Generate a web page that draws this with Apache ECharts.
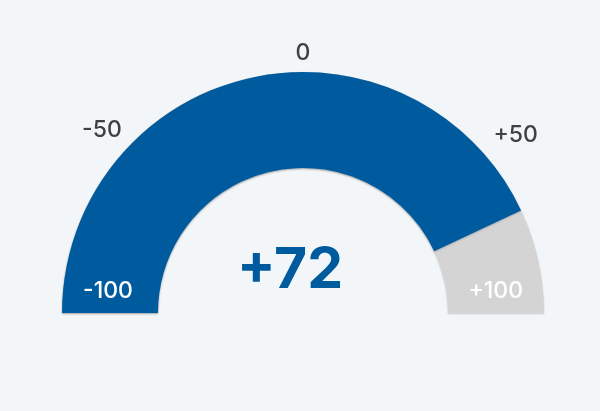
<!DOCTYPE html>
<html>
<head>
<meta charset="utf-8">
<script src="https://cdn.jsdelivr.net/npm/echarts@6/dist/echarts.min.js"></script>
<style>
html,body{margin:0;padding:0;background:#f3f6f9;}
#c{width:600px;height:411px;}
</style>
</head>
<body>
<div id="c"></div>
<script>
const scaleMin = -100;
const scaleMax = 100;
const tickValues = [-100, -50, 0, 50, 100];
const gaugeValue = 72;

const fmt = v => (v > 0 ? '+' + v : '' + v);
const chart = echarts.init(document.getElementById('c'));
const FONT = 'Inter';
const common = {
  type: 'gauge',
  center: [303, 313],
  radius: 241,
  startAngle: 180,
  endAngle: 0,
  min: scaleMin,
  max: scaleMax,
  splitNumber: tickValues.length - 1,
  pointer: { show: false },
  axisTick: { show: false },
  splitLine: { show: false, length: 0 },
  anchor: { show: false },
  title: { show: false }
};
const outerStyle = { color: '#404040', fontSize: 23, fontFamily: FONT, fontWeight: 500 };
const innerStyle = { color: '#ffffff', fontSize: 23, fontFamily: FONT, fontWeight: 500 };
chart.setOption({
  backgroundColor: '#f3f6f9',
  animation: false,
  series: [
    Object.assign({}, common, {
      z: 2,
      axisLine: { lineStyle: { width: 96, color: [[1, '#d4d4d4']], shadowColor: 'rgba(0,0,0,0.18)', shadowBlur: 2, shadowOffsetY: 1 } },
      progress: { show: true, width: 96, itemStyle: { color: '#005b9e', shadowColor: 'rgba(0,0,0,0.18)', shadowBlur: 2, shadowOffsetY: 1 } },
      axisLabel: { show: false },
      detail: {
        valueAnimation: false,
        offsetCenter: [-13, -42],
        formatter: v => fmt(v),
        color: '#005b9e',
        fontSize: 57,
        fontWeight: 'bold',
        fontFamily: FONT
      },
      data: [{ value: gaugeValue }]
    }),
    Object.assign({}, common, {
      z: 10,
      axisLine: { show: false },
      progress: { show: false },
      axisLabel: {
        distance: 11,
        color: '#ffffff',
        fontSize: 23,
        fontFamily: FONT,
        fontWeight: 500,
        formatter: v => (v === scaleMin || v === scaleMax) ? '{a|' + fmt(v) + '}' : '',
        rich: { a: Object.assign({ padding: [0, 0, 44, 0] }, innerStyle) }
      },
      detail: { show: false },
      data: [{ value: gaugeValue }]
    }),
    Object.assign({}, common, {
      z: 10,
      axisLine: { show: false },
      progress: { show: false },
      axisLabel: {
        distance: -104,
        color: '#404040',
        fontSize: 23,
        fontFamily: FONT,
        fontWeight: 500,
        formatter: v => {
          if (v === scaleMin || v === scaleMax) return '';
          if (v < 0) return '{l|' + fmt(v) + '}';
          if (v > 0) return '{r|' + fmt(v) + '}';
          return '{c|' + fmt(v) + '}';
        },
        rich: {
          l: Object.assign({ padding: [108, 0, 0, 16] }, outerStyle),
          r: Object.assign({ padding: [118, 2, 0, 0] }, outerStyle),
          c: Object.assign({ padding: [64, 0, 0, 0] }, outerStyle)
        }
      },
      detail: { show: false },
      data: [{ value: gaugeValue }]
    })
  ]
});
</script>
</body>
</html>
